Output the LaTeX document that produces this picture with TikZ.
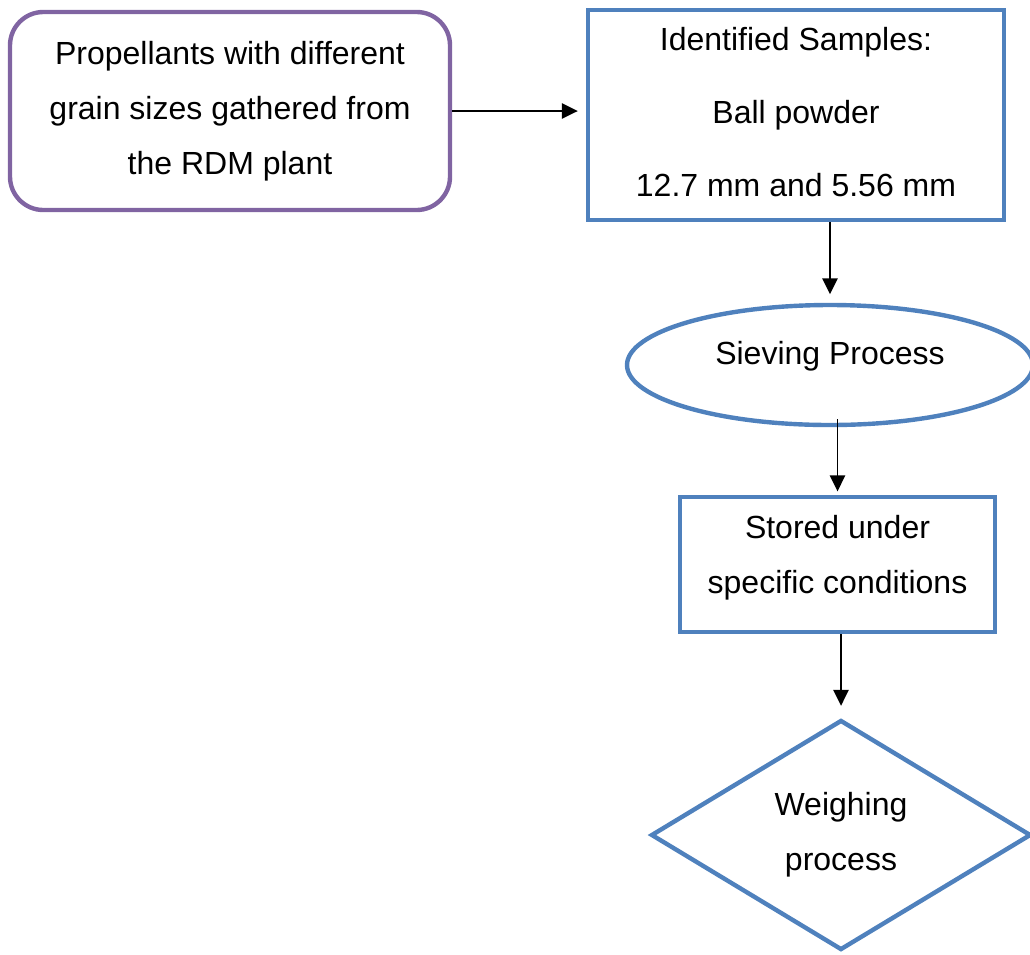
\documentclass[tikz,border=0pt]{standalone}
\usepackage{fontspec}
\setmainfont{Liberation Sans}
\usetikzlibrary{arrows.meta,shapes.geometric}

\definecolor{boxblue}{RGB}{79,129,189}
\definecolor{boxpurple}{RGB}{128,100,162}

\begin{document}
\begin{tikzpicture}[
  x=0.75pt,y=-0.75pt,
  font=\fontsize{24}{41.25}\selectfont,
  every node/.style={align=center,inner sep=2pt},
  stepbox/.style={draw=boxblue,line width=3.3pt,minimum width=#1},
  source/.style={draw=boxpurple,line width=3.3pt,rounded corners=25pt,
    minimum width=330pt,minimum height=148.5pt},
  oval/.style={draw=boxblue,line width=3.3pt,ellipse,
    minimum width=304.5pt,minimum height=90pt,text depth=18pt},
  check/.style={draw=boxblue,line width=3.3pt,diamond,
    minimum width=285pt,minimum height=172.5pt},
  flow/.style={-{Triangle[length=12pt,width=11.5pt]},line width=1.3pt}
]
  \useasboundingbox (0,0) rectangle (1030,954);
  \node[source] (src) at (230,111)
    {Propellants with different\\grain sizes gathered from\\the RDM plant};
  \node[stepbox=312pt,minimum height=157.5pt,text depth=4.5pt,
    font=\fontsize{24}{55}\selectfont] (samples) at (796,115)
    {Identified Samples:\\Ball powder\\12.7 mm and 5.56 mm};
  \node[oval] (sieve) at (830,365) {Sieving Process};
  \node[stepbox=236.25pt,minimum height=101.25pt,text depth=15.4pt]
    (store) at (837.5,564.5) {Stored under\\specific conditions};
  \node[check] (weigh) at (841,835) {Weighing\\process};
  \draw[flow,shorten >=6pt] (src.east) -- (src.east -| samples.west);
  \draw[flow,shorten >=6.4pt] (samples.south -| sieve.north) -- (sieve.north);
  \draw[flow,shorten <=-6pt,shorten >=2.6pt] (sieve.south -| store.north) -- (store.north);
  \draw[flow,shorten >=9pt] (store.south -| weigh.north) -- (weigh.north);
\end{tikzpicture}
\end{document}
